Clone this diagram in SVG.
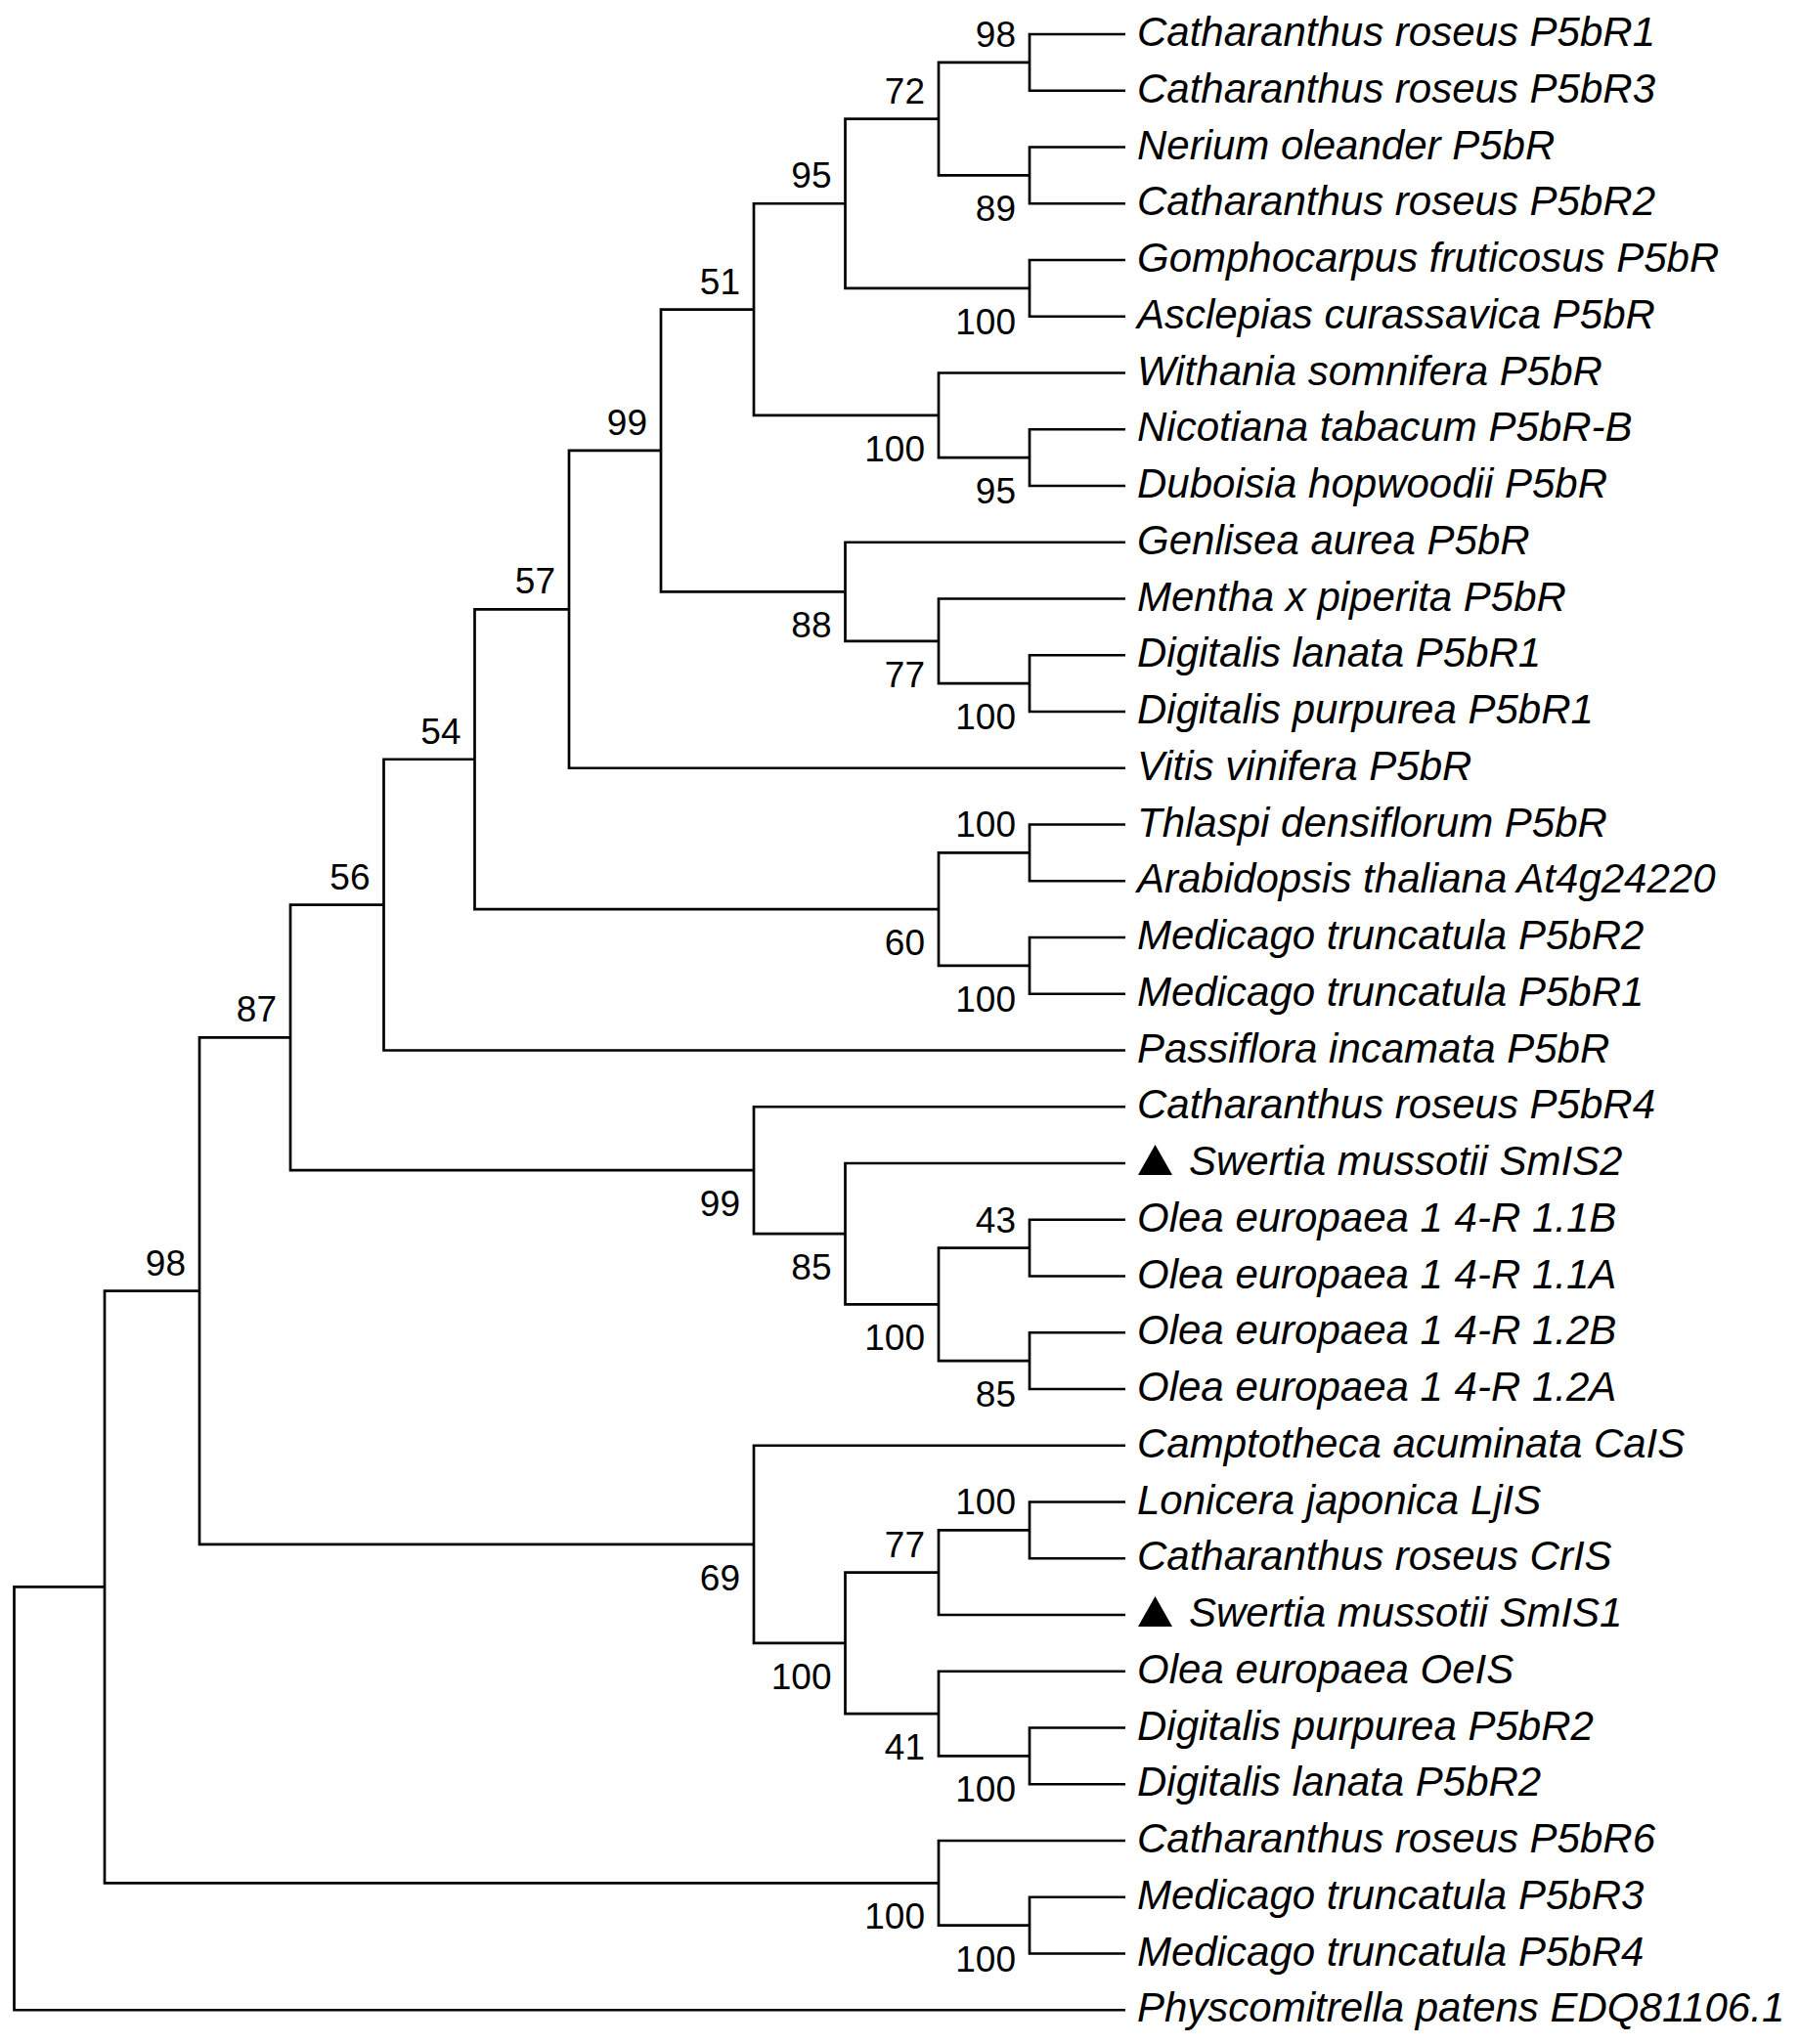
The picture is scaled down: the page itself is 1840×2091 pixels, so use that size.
<svg xmlns="http://www.w3.org/2000/svg" width="1840" height="2091" viewBox="0 0 1840 2091">
<style>
.br{fill:none;stroke:#000;stroke-width:2.7;stroke-linejoin:miter;stroke-linecap:butt}
.lf{font-family:"Liberation Sans",Arial,sans-serif;font-style:italic;font-size:42px;fill:#000}
.bs{font-family:"Liberation Sans",Arial,sans-serif;font-size:37px;fill:#000;text-anchor:end}
.tri{fill:#000}
</style>
<rect width="1840" height="2091" fill="#fff"/>
<g id="connectors">
<path class="br" d="M1151 35H1053V92.75H1151"/>
<path class="br" d="M1151 150.5H1053V208.25H1151"/>
<path class="br" d="M1053 63.875H960V179.375H1053"/>
<path class="br" d="M1151 266H1053V323.75H1151"/>
<path class="br" d="M960 121.625H864.5V294.875H1053"/>
<path class="br" d="M1151 439.25H1053V497H1151"/>
<path class="br" d="M1151 381.5H960V468.125H1053"/>
<path class="br" d="M864.5 208.25H771V424.81H960"/>
<path class="br" d="M1151 670.25H1053V728H1151"/>
<path class="br" d="M1151 612.5H960V699.125H1053"/>
<path class="br" d="M1151 554.75H864.5V655.81H960"/>
<path class="br" d="M771 316.53H676V605.28H864.5"/>
<path class="br" d="M676 460.91H582V785.75H1151"/>
<path class="br" d="M1151 843.5H1053V901.25H1151"/>
<path class="br" d="M1151 959H1053V1016.75H1151"/>
<path class="br" d="M1053 872.375H960V987.875H1053"/>
<path class="br" d="M582 623.33H485.5V930.125H960"/>
<path class="br" d="M485.5 776.73H392.5V1074.5H1151"/>
<path class="br" d="M1151 1247.75H1053V1305.5H1151"/>
<path class="br" d="M1151 1363.25H1053V1421H1151"/>
<path class="br" d="M1053 1276.625H960V1392.125H1053"/>
<path class="br" d="M1151 1190H864.5V1334.375H960"/>
<path class="br" d="M1151 1132.25H771V1262.19H864.5"/>
<path class="br" d="M392.5 925.61H297V1197.22H771"/>
<path class="br" d="M1151 1536.5H1053V1594.25H1151"/>
<path class="br" d="M1053 1565.375H960V1652H1151"/>
<path class="br" d="M1151 1767.5H1053V1825.25H1151"/>
<path class="br" d="M1151 1709.75H960V1796.375H1053"/>
<path class="br" d="M960 1608.69H864.5V1753.06H960"/>
<path class="br" d="M1151 1478.75H771V1680.88H864.5"/>
<path class="br" d="M297 1061.41H204V1579.81H771"/>
<path class="br" d="M1151 1940.75H1053V1998.5H1151"/>
<path class="br" d="M1151 1883H960V1969.625H1053"/>
<path class="br" d="M204 1320.61H107V1926.31H960"/>
<path class="br" d="M107 1623.46H14.5V2056.25H1151"/>
</g>
<g id="leaf-0"><text class="lf" x="1163" y="47">Catharanthus roseus P5bR1</text></g>
<g id="leaf-1"><text class="lf" x="1163" y="104.75">Catharanthus roseus P5bR3</text></g>
<g id="leaf-2"><text class="lf" x="1163" y="162.5">Nerium oleander P5bR</text></g>
<g id="leaf-3"><text class="lf" x="1163" y="220.25">Catharanthus roseus P5bR2</text></g>
<g id="leaf-4"><text class="lf" x="1163" y="278">Gomphocarpus fruticosus P5bR</text></g>
<g id="leaf-5"><text class="lf" x="1163" y="335.75">Asclepias curassavica P5bR</text></g>
<g id="leaf-6"><text class="lf" x="1163" y="393.5">Withania somnifera P5bR</text></g>
<g id="leaf-7"><text class="lf" x="1163" y="451.25">Nicotiana tabacum P5bR-B</text></g>
<g id="leaf-8"><text class="lf" x="1163" y="509">Duboisia hopwoodii P5bR</text></g>
<g id="leaf-9"><text class="lf" x="1163" y="566.75">Genlisea aurea P5bR</text></g>
<g id="leaf-10"><text class="lf" x="1163" y="624.5">Mentha x piperita P5bR</text></g>
<g id="leaf-11"><text class="lf" x="1163" y="682.25">Digitalis lanata P5bR1</text></g>
<g id="leaf-12"><text class="lf" x="1163" y="740">Digitalis purpurea P5bR1</text></g>
<g id="leaf-13"><text class="lf" x="1163" y="797.75">Vitis vinifera P5bR</text></g>
<g id="leaf-14"><text class="lf" x="1163" y="855.5">Thlaspi densiflorum P5bR</text></g>
<g id="leaf-15"><text class="lf" x="1163" y="913.25">Arabidopsis thaliana At4g24220</text></g>
<g id="leaf-16"><text class="lf" x="1163" y="971">Medicago truncatula P5bR2</text></g>
<g id="leaf-17"><text class="lf" x="1163" y="1028.75">Medicago truncatula P5bR1</text></g>
<g id="leaf-18"><text class="lf" x="1163" y="1086.5">Passiflora incamata P5bR</text></g>
<g id="leaf-19"><text class="lf" x="1163" y="1144.25">Catharanthus roseus P5bR4</text></g>
<g id="leaf-20"><polygon class="tri" points="1164,1202 1199,1202 1181.5,1171"/><text class="lf" x="1216" y="1202">Swertia mussotii SmIS2</text></g>
<g id="leaf-21"><text class="lf" x="1163" y="1259.75">Olea europaea 1 4-R 1.1B</text></g>
<g id="leaf-22"><text class="lf" x="1163" y="1317.5">Olea europaea 1 4-R 1.1A</text></g>
<g id="leaf-23"><text class="lf" x="1163" y="1375.25">Olea europaea 1 4-R 1.2B</text></g>
<g id="leaf-24"><text class="lf" x="1163" y="1433">Olea europaea 1 4-R 1.2A</text></g>
<g id="leaf-25"><text class="lf" x="1163" y="1490.75">Camptotheca acuminata CaIS</text></g>
<g id="leaf-26"><text class="lf" x="1163" y="1548.5">Lonicera japonica LjIS</text></g>
<g id="leaf-27"><text class="lf" x="1163" y="1606.25">Catharanthus roseus CrIS</text></g>
<g id="leaf-28"><polygon class="tri" points="1164,1664 1199,1664 1181.5,1633"/><text class="lf" x="1216" y="1664">Swertia mussotii SmIS1</text></g>
<g id="leaf-29"><text class="lf" x="1163" y="1721.75">Olea europaea OeIS</text></g>
<g id="leaf-30"><text class="lf" x="1163" y="1779.5">Digitalis purpurea P5bR2</text></g>
<g id="leaf-31"><text class="lf" x="1163" y="1837.25">Digitalis lanata P5bR2</text></g>
<g id="leaf-32"><text class="lf" x="1163" y="1895">Catharanthus roseus P5bR6</text></g>
<g id="leaf-33"><text class="lf" x="1163" y="1952.75">Medicago truncatula P5bR3</text></g>
<g id="leaf-34"><text class="lf" x="1163" y="2010.5">Medicago truncatula P5bR4</text></g>
<g id="leaf-35"><text class="lf" x="1163" y="2068.25">Physcomitrella patens EDQ81106.1</text></g>
<g id="node-98a"><text class="bs" x="1039" y="47.9">98</text></g>
<g id="node-89"><text class="bs" x="1039" y="226.4">89</text></g>
<g id="node-72"><text class="bs" x="946" y="105.6">72</text></g>
<g id="node-100a"><text class="bs" x="1039" y="341.9">100</text></g>
<g id="node-95a"><text class="bs" x="850.5" y="192.25">95</text></g>
<g id="node-95b"><text class="bs" x="1039" y="515.1">95</text></g>
<g id="node-100b"><text class="bs" x="946" y="471.8">100</text></g>
<g id="node-51"><text class="bs" x="757" y="300.5">51</text></g>
<g id="node-100c"><text class="bs" x="1039" y="746.1">100</text></g>
<g id="node-77a"><text class="bs" x="946" y="702.8">77</text></g>
<g id="node-88"><text class="bs" x="850.5" y="652.3">88</text></g>
<g id="node-99a"><text class="bs" x="662" y="444.9">99</text></g>
<g id="node-57"><text class="bs" x="568" y="607.3">57</text></g>
<g id="node-100d"><text class="bs" x="1039" y="856.4">100</text></g>
<g id="node-100e"><text class="bs" x="1039" y="1034.9">100</text></g>
<g id="node-60"><text class="bs" x="946" y="977.1">60</text></g>
<g id="node-54"><text class="bs" x="471.5" y="760.7">54</text></g>
<g id="node-56"><text class="bs" x="378.5" y="909.6">56</text></g>
<g id="node-43"><text class="bs" x="1039" y="1260.6">43</text></g>
<g id="node-85b"><text class="bs" x="1039" y="1439.1">85</text></g>
<g id="node-100f"><text class="bs" x="946" y="1381.4">100</text></g>
<g id="node-85a"><text class="bs" x="850.5" y="1309.2">85</text></g>
<g id="node-99b"><text class="bs" x="757" y="1244.2">99</text></g>
<g id="node-87"><text class="bs" x="283" y="1045.4">87</text></g>
<g id="node-100g"><text class="bs" x="1039" y="1549.4">100</text></g>
<g id="node-77b"><text class="bs" x="946" y="1592.7">77</text></g>
<g id="node-100h"><text class="bs" x="1039" y="1843.4">100</text></g>
<g id="node-41"><text class="bs" x="946" y="1800.1">41</text></g>
<g id="node-100i"><text class="bs" x="850.5" y="1727.9">100</text></g>
<g id="node-69"><text class="bs" x="757" y="1626.8">69</text></g>
<g id="node-98b"><text class="bs" x="190" y="1304.6">98</text></g>
<g id="node-100j"><text class="bs" x="1039" y="2016.6">100</text></g>
<g id="node-100k"><text class="bs" x="946" y="1973.3">100</text></g>
</svg>
